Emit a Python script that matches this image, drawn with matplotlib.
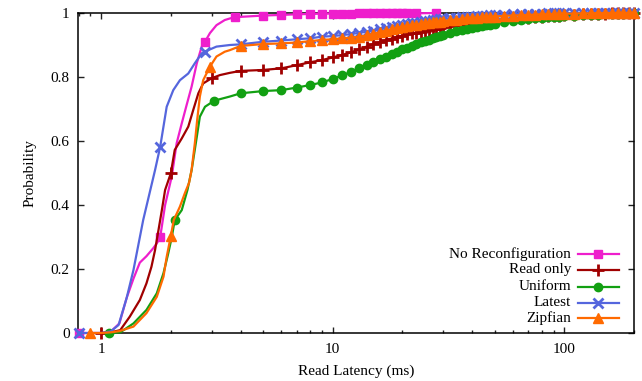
import matplotlib
matplotlib.use("Agg")
import matplotlib.pyplot as plt
from matplotlib.ticker import FixedLocator, LogLocator, NullFormatter

plt.rcParams['font.family'] = ['Liberation Serif', 'DejaVu Serif']

# --- data: CDF of read latency (ms) ---
# shared sampling grid for the long tail
TAIL_MS = [4, 5, 6, 7, 8, 9, 10, 11, 12, 13, 14, 15, 16, 17, 18, 19, 20, 21, 22,
           23, 24, 25, 26, 27, 28, 29, 30, 32, 34, 36, 38, 40, 42, 44, 46, 48, 50,
           55, 60, 65, 70, 75, 80, 85, 90, 95, 100,
           110, 120, 130, 140, 150, 160, 170, 180, 190, 200]

# No Reconfiguration
noreconf_ms = [0.8, 1.0, 1.1, 1.2, 1.29, 1.38, 1.47, 1.57, 1.68, 1.74, 1.8, 1.89,
               2.02, 2.12, 2.23, 2.34, 2.46, 2.59, 2.72, 2.8, 2.95, 3.15, 3.42, 3.6,
               3.8, 5, 6, 7, 8, 9, 10, 11, 12, 13, 14, 15, 16, 17, 18, 19, 20, 21,
               23, 28]
noreconf_p = [0.0, 0.0, 0.004, 0.03, 0.11, 0.17, 0.22, 0.24, 0.265, 0.28, 0.30, 0.40,
              0.49, 0.593, 0.655, 0.712, 0.77, 0.843, 0.895, 0.908, 0.937, 0.962, 0.978, 0.983,
              0.987, 0.992, 0.994, 0.996, 0.997, 0.998, 0.998, 0.998, 0.998, 0.999, 0.999,
              0.999, 0.999, 0.999, 0.999, 0.999, 0.999, 0.999, 0.999, 1.0]
noreconf_marks = [0.8, 1.8, 2.8, 3.8, 5, 6, 7, 8, 9, 10, 11, 12, 13, 14, 15, 16, 17,
                  18, 19, 20, 21, 23, 28]

# Read only
readonly_rise_ms = [1.0, 1.1, 1.21, 1.33, 1.47, 1.57, 1.65, 1.71, 1.77, 1.83, 1.89,
                    2.0, 2.08, 2.23, 2.38, 2.5, 2.63, 2.76, 3.0, 3.26, 3.6]
readonly_rise_p = [0.0, 0.002, 0.009, 0.051, 0.103, 0.155, 0.207, 0.259, 0.322, 0.384,
                   0.447, 0.499, 0.572, 0.608, 0.645, 0.697, 0.749, 0.78, 0.796, 0.806, 0.813]
readonly_tail_p = [0.819, 0.822, 0.827, 0.837, 0.846, 0.853, 0.861, 0.869, 0.877, 0.886,
                   0.895, 0.903, 0.909, 0.915, 0.920, 0.925, 0.929, 0.933, 0.936, 0.939,
                   0.942, 0.945, 0.947, 0.949, 0.951, 0.953, 0.955,
                   0.958, 0.961, 0.963, 0.965, 0.967, 0.969, 0.971, 0.972, 0.973, 0.975,
                   0.978, 0.981, 0.983, 0.985, 0.987, 0.988, 0.990, 0.991, 0.992, 0.993,
                   0.995, 0.996, 0.997, 0.998, 0.998, 0.999, 0.999, 1.0, 1.0, 1.0]
readonly_marks = [1.0, 2.0, 3.0]

# Uniform
uniform_rise_ms = [1.08, 1.21, 1.38, 1.57, 1.74, 1.86, 1.95, 2.02, 2.08, 2.23, 2.36,
                   2.46, 2.59, 2.67, 2.81, 3.08, 3.6]
uniform_rise_p = [0.0, 0.002, 0.03, 0.072, 0.124, 0.187, 0.249, 0.30, 0.353, 0.384,
                  0.447, 0.509, 0.613, 0.676, 0.707, 0.726, 0.739]
uniform_tail_p = [0.749, 0.756, 0.759, 0.767, 0.775, 0.783, 0.794, 0.805, 0.816, 0.828,
                  0.839, 0.848, 0.856, 0.864, 0.872, 0.879, 0.886, 0.892, 0.898, 0.903,
                  0.908, 0.913, 0.917, 0.921, 0.925, 0.929, 0.932,
                  0.938, 0.943, 0.947, 0.951, 0.954, 0.957, 0.960, 0.962, 0.964, 0.966,
                  0.971, 0.975, 0.978, 0.981, 0.983, 0.985, 0.987, 0.988, 0.989, 0.990,
                  0.992, 0.993, 0.994, 0.995, 0.996, 0.997, 0.998, 0.998, 0.999, 1.0]
uniform_marks = [1.08, 2.08, 3.08]

# Latest
latest_rise_ms = [0.8, 1.0, 1.1, 1.19, 1.29, 1.38, 1.52, 1.71, 1.8, 1.92, 2.05, 2.19,
                  2.38, 2.54, 2.72, 2.8, 3.15, 3.6]
latest_rise_p = [0.0, 0.0, 0.005, 0.025, 0.11, 0.197, 0.353, 0.509, 0.582, 0.707, 0.759,
                 0.79, 0.811, 0.843, 0.874, 0.879, 0.895, 0.90]
latest_tail_p = [0.902, 0.910, 0.914, 0.918, 0.921, 0.926, 0.928, 0.931, 0.934, 0.938,
                 0.941, 0.945, 0.949, 0.953, 0.957, 0.960, 0.963, 0.966, 0.968, 0.970,
                 0.972, 0.974, 0.976, 0.977, 0.979, 0.980, 0.981,
                 0.983, 0.985, 0.987, 0.988, 0.989, 0.990, 0.991, 0.992, 0.993, 0.994,
                 0.995, 0.996, 0.997, 0.997, 0.998, 0.998, 0.999, 0.999, 0.999, 1.0,
                 1.0, 1.0, 1.0, 1.0, 1.0, 1.0, 1.0, 1.0, 1.0, 1.0]
latest_marks = [0.8, 1.8, 2.8]

# Zipfian
zipfian_rise_ms = [0.9, 1.0, 1.1, 1.2, 1.38, 1.57, 1.74, 1.86, 1.92, 2.0, 2.06, 2.19,
                   2.3, 2.4, 2.46, 2.54, 2.6, 2.67, 2.76, 2.95, 3.15, 3.42, 3.6]
zipfian_rise_p = [0.0, 0.0, 0.002, 0.006, 0.02, 0.062, 0.113, 0.176, 0.238, 0.303, 0.353,
                  0.395, 0.437, 0.47, 0.51, 0.593, 0.666, 0.739, 0.79, 0.832, 0.864, 0.879, 0.884]
zipfian_tail_p = [0.897, 0.903, 0.905, 0.908, 0.912, 0.916, 0.918, 0.921, 0.923, 0.926,
                  0.930, 0.935, 0.940, 0.945, 0.949, 0.953, 0.956, 0.959, 0.962, 0.964,
                  0.966, 0.968, 0.970, 0.971, 0.972, 0.973, 0.975,
                  0.977, 0.979, 0.981, 0.983, 0.984, 0.985, 0.986, 0.987, 0.988, 0.989,
                  0.991, 0.992, 0.993, 0.994, 0.995, 0.996, 0.996, 0.997, 0.997, 0.998,
                  0.998, 0.999, 0.999, 1.0, 1.0, 1.0, 1.0, 1.0, 1.0, 1.0]
zipfian_marks = [0.9, 2.0, 2.95]

series = [
    ("No Reconfiguration", noreconf_ms, noreconf_p, noreconf_marks,
     '#ee1ecc', 's', 6, 1),
    ("Read only", readonly_rise_ms + TAIL_MS, readonly_rise_p + readonly_tail_p,
     readonly_marks + TAIL_MS, '#a00000', '+', 8, 2),
    ("Uniform", uniform_rise_ms + TAIL_MS, uniform_rise_p + uniform_tail_p,
     uniform_marks + TAIL_MS, '#12a012', 'o', 6, 1),
    ("Latest", latest_rise_ms + TAIL_MS, latest_rise_p + latest_tail_p,
     latest_marks + TAIL_MS, '#5566dd', 'x', 6.5, 2),
    ("Zipfian", zipfian_rise_ms + TAIL_MS, zipfian_rise_p + zipfian_tail_p,
     zipfian_marks + TAIL_MS, '#ff6a00', '^', 6.5, 1),
]

fig = plt.figure(figsize=(6.42, 3.81), dpi=100)
ax = fig.add_axes([78 / 642, 48 / 381, 556 / 642, 320 / 381])

for name, xs, ys, marks, color, mk, msz, mew in series:
    idx = [i for i, x in enumerate(xs) if x in marks]
    ax.plot(xs, ys, color=color, lw=1.6, marker=mk, markersize=msz,
            markeredgewidth=mew, markevery=idx, clip_on=False, zorder=3)

ax.set_xscale('log')
ax.set_xlim(0.795, 200)
ax.set_ylim(0, 1)
ax.xaxis.set_major_locator(FixedLocator([1, 10, 100]))
ax.set_xticklabels(['1', '10', '100'])
ax.xaxis.set_minor_locator(LogLocator(base=10, subs=range(2, 10)))
ax.xaxis.set_minor_formatter(NullFormatter())
ax.set_yticks([0, 0.2, 0.4, 0.6, 0.8, 1.0])
ax.set_yticklabels(['0', '0.2', '0.4', '0.6', '0.8', '1'])

ax.tick_params(which='both', direction='in', top=True, right=True,
               labelsize=11, width=1, color='#222222')
ax.tick_params(which='major', length=4.5)
ax.tick_params(which='minor', length=2.5)
ax.tick_params(axis='y', pad=6)
ax.tick_params(axis='x', pad=7)
for sp in ax.spines.values():
    sp.set_linewidth(1.1)

ax.set_xlabel("Read Latency (ms)", fontsize=11, labelpad=6)
ax.set_ylabel("Probability", fontsize=11, labelpad=10)

# gnuplot-style key: right-aligned text, sample to the right
row_y = [0.247, 0.197, 0.145, 0.095, 0.046]
for (name, xs, ys, marks, color, mk, msz, mew), yy in zip(series, row_y):
    ax.text(0.8867, yy, name, transform=ax.transAxes, ha='right', va='center',
            fontsize=11)
    ax.plot([0.8993, 0.973], [yy, yy], transform=ax.transAxes, color=color,
            lw=1.6, clip_on=False)
    ax.plot([0.936], [yy], transform=ax.transAxes, color=color, marker=mk,
            markersize=msz, markeredgewidth=mew, clip_on=False)

fig.savefig("out.png", dpi=100)
